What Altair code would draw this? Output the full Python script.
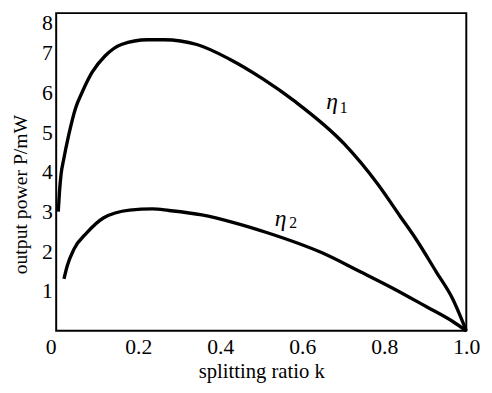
import altair as alt
import pandas as pd

k1 = [0.005, 0.008, 0.012, 0.018, 0.031, 0.047, 0.063, 0.087, 0.119, 0.159, 0.223, 0.263,
      0.343, 0.423, 0.503, 0.583, 0.703, 0.783, 0.839, 0.878, 0.927, 0.966, 1.0]
p1 = [3.0, 3.5, 3.95, 4.3, 4.95, 5.6, 6.0, 6.5, 6.92, 7.21, 7.33, 7.33,
      7.21, 6.84, 6.35, 5.77, 4.70, 3.71, 2.88, 2.30, 1.48, 0.82, 0.0]
k2 = [0.019, 0.027, 0.043, 0.075, 0.115, 0.179, 0.235, 0.275, 0.355, 0.435, 0.515,
      0.647, 0.743, 0.823, 0.902, 0.966, 1.0]
p2 = [1.31, 1.64, 2.05, 2.47, 2.84, 3.04, 3.07, 3.03, 2.92, 2.72, 2.47,
      1.97, 1.48, 1.06, 0.61, 0.24, 0.0]

label_main = ["η", "η"]
label_sub = ["1", "2"]
label_x = [0.673, 0.547]
label_y = [5.77, 2.82]
sub_x = [0.701, 0.578]
sub_y = [5.62, 2.72]

x_ticks = [0, 0.2, 0.4, 0.6, 0.8, 1.0]
y_ticks = [1, 2, 3, 4, 5, 6, 7, 8]

curves = pd.concat([
    pd.DataFrame({"k": k1, "P": p1, "s": "eta1"}),
    pd.DataFrame({"k": k2, "P": p2, "s": "eta2"}),
])
labels = pd.DataFrame({"t": label_main, "x": label_x, "y": label_y})
subs = pd.DataFrame({"t": label_sub, "x": sub_x, "y": sub_y})

FONT = "Liberation Serif"

xs = alt.Scale(domain=[0, 1], nice=False)
ys = alt.Scale(domain=[0, 8], nice=False)

lines = alt.Chart(curves).mark_line(
    color="black", strokeWidth=3.4, interpolate="monotone", clip=False
).encode(
    x=alt.X("k:Q", scale=xs, axis=alt.Axis(
        values=x_ticks, title="splitting ratio k", grid=False, ticks=False, domain=False,
        labelExpr="datum.value == 0 ? '0' : format(datum.value, '.1f')",
        labelAlign=alt.expr("datum.value == 0 ? 'right' : 'center'"),
        labelFont=FONT, labelFontSize=22, labelFontWeight="normal", labelColor="black",
        labelPadding=6, titleFont=FONT, titleFontSize=21, titleFontWeight="normal",
        titleColor="black", titlePadding=4)),
    y=alt.Y("P:Q", scale=ys, axis=alt.Axis(
        values=y_ticks, title="output power P/mW", grid=False, ticks=False, domain=False,
        labelFont=FONT, labelFontSize=22, labelFontWeight="normal", labelColor="black",
        labelBaseline=alt.expr("datum.value == 8 ? 'top' : 'middle'"),
        labelPadding=4, titleFont=FONT, titleFontSize=20, titleFontWeight="normal",
        titleColor="black", titleX=-36, titleY=184, titleBaseline="middle",
        titleAlign="center")),
    detail="s:N",
)

eta = alt.Chart(labels).mark_text(
    font=FONT, fontSize=24, fontStyle="italic", color="black", align="center", baseline="middle"
).encode(x=alt.X("x:Q", scale=xs), y=alt.Y("y:Q", scale=ys), text="t:N")

sub = alt.Chart(subs).mark_text(
    font=FONT, fontSize=16, color="black", align="center", baseline="middle"
).encode(x=alt.X("x:Q", scale=xs), y=alt.Y("y:Q", scale=ys), text="t:N")

chart = alt.layer(lines, eta, sub).properties(
    width=417, height=323,
    background="white",
    autosize=alt.AutoSizeParams(type="none"),
    padding={"left": 49, "top": 2, "right": 18, "bottom": 58},
).configure_view(stroke="black", strokeWidth=2)

chart.save("out.html", embed_options={"renderer": "svg", "actions": False})
